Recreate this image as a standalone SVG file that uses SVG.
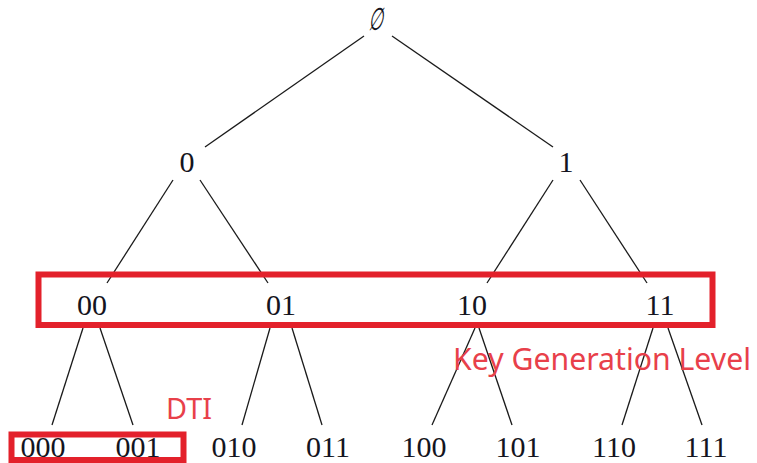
<svg xmlns="http://www.w3.org/2000/svg" width="757" height="463" viewBox="0 0 757 463">
<style>
.n{font-family:"Liberation Serif","DejaVu Serif",serif;font-size:30px;fill:#141420;text-anchor:middle}
.e{stroke:#1a1a1a;stroke-width:1.3;fill:none}
.box{fill:none;stroke:#e3212b;stroke-width:6}
.lbl{font-family:"Noto Sans","Liberation Sans",sans-serif;fill:#e8404a}
</style>
<rect width="757" height="463" fill="#ffffff"/>
<g id="connectors">
<line class="e" x1="364" y1="36" x2="205" y2="147"/>
<line class="e" x1="392" y1="36" x2="553" y2="147"/>
<line class="e" x1="173" y1="180" x2="107" y2="283"/>
<line class="e" x1="200" y1="180" x2="268" y2="283"/>
<line class="e" x1="553" y1="180" x2="487" y2="283"/>
<line class="e" x1="580" y1="180" x2="647" y2="283"/>
<line class="e" x1="83" y1="328" x2="52" y2="425"/>
<line class="e" x1="100" y1="328" x2="133" y2="425"/>
<line class="e" x1="270" y1="328" x2="242" y2="425"/>
<line class="e" x1="292" y1="328" x2="322" y2="425"/>
<line class="e" x1="475" y1="328" x2="432" y2="425"/>
<line class="e" x1="479" y1="328" x2="512" y2="425"/>
<line class="e" x1="653" y1="328" x2="622" y2="425"/>
<line class="e" x1="668" y1="328" x2="702" y2="425"/>
</g>
<g id="root"><text class="n" transform="translate(382,0) skewX(-12) scale(0.55,1.05)" x="0" y="29">∅</text></g>
<g id="n0"><text class="n" x="187" y="172">0</text></g>
<g id="n1"><text class="n" x="566" y="172">1</text></g>
<g id="n00"><text class="n" x="92" y="315">00</text></g>
<g id="n01"><text class="n" x="281" y="315">01</text></g>
<g id="n10"><text class="n" x="472" y="315">10</text></g>
<g id="n11"><text class="n" x="660" y="315">11</text></g>
<g id="n000"><text class="n" x="43" y="457">000</text></g>
<g id="n001"><text class="n" x="138" y="457">001</text></g>
<g id="n010"><text class="n" x="234" y="457">010</text></g>
<g id="n011"><text class="n" x="328" y="457">011</text></g>
<g id="n100"><text class="n" x="424" y="457">100</text></g>
<g id="n101"><text class="n" x="518" y="457">101</text></g>
<g id="n110"><text class="n" x="614" y="457">110</text></g>
<g id="n111"><text class="n" x="706" y="457">111</text></g>
<g id="keylevel">
<rect class="box" x="38.5" y="274.5" width="674" height="50.5"/>
<text class="lbl" x="453" y="370" font-size="30" textLength="298" lengthAdjust="spacingAndGlyphs">Key Generation Level</text>
</g>
<g id="dti">
<rect class="box" x="11.5" y="434.5" width="172" height="25.5"/>
<text class="lbl" x="166" y="419" font-size="29" textLength="46" lengthAdjust="spacingAndGlyphs">DTI</text>
</g>
</svg>
